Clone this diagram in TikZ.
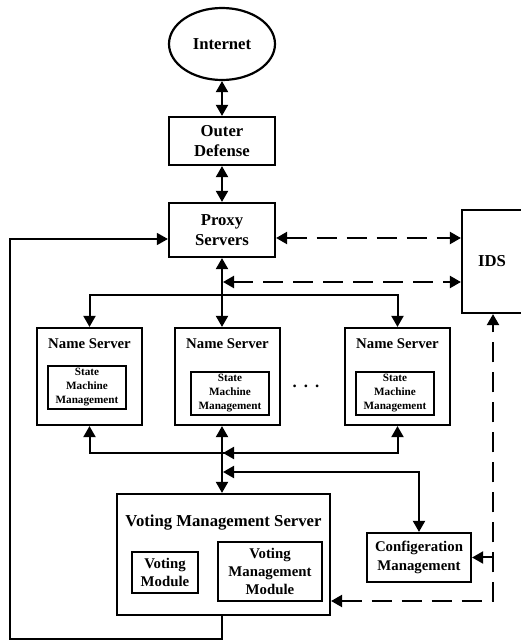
\documentclass[tikz,border=0pt]{standalone}
\usepackage{fontspec}
\setmainfont{Liberation Serif}
\usetikzlibrary{arrows.meta,shapes.geometric}
\newcommand{\fbig}{\fontsize{16.7}{20.7}\selectfont\bfseries}
\newcommand{\fmid}{\fontsize{14.8}{18.2}\selectfont\bfseries}
\newcommand{\fsmall}{\fontsize{11.2}{14}\selectfont\bfseries}
\begin{document}
\begin{tikzpicture}[x=1pt,y=1pt,>={Triangle[length=11pt,width=12pt]},
    box/.style={draw,line width=2.2pt,align=center,inner sep=0pt},
    link/.style={line width=2pt},
    dlink/.style={line width=2.2pt,dash pattern=on 20pt off 10pt}]
        \useasboundingbox (0,0) rectangle (521,641);
        \node [box,ellipse,minimum width=106,minimum height=72,font=\fbig] (inet) at (222,597) {Internet};
        \node [box,minimum width=106,minimum height=48,font=\fbig] (outer) at (222,500) {Outer\\Defense};
        \node [box,minimum width=106,minimum height=54,font=\fbig] (prx) at (222,411) {Proxy\\Servers};
        \node [box,minimum width=60,minimum height=103,font=\fbig] (ids) at (492,379.5) {IDS};
        % name servers
        \foreach \i/\x/\sx/\sy in {1/89.5/87/253.5, 2/227.5/230/247.5, 3/397.5/395/247.5}{
        \node [box,minimum width=105,minimum height=97] (ns\i) at (\x,264.5) {};
        \node [font=\fmid] (nst\i) at ([yshift=-17pt]ns\i.north) {Name Server};
        \node [box,line width=2pt,minimum width=78,minimum height=43,font=\fsmall] (sm\i) at (\sx,\sy) {State\\Machine\\Management};
        }
        \node [font=\fbig] (dots) at (306,255) {.\hspace{7pt}.\hspace{7pt}.};
        % voting
        \node [box,minimum width=213,minimum height=121] (vms) at (223.5,86.5) {};
        \node [font=\fbig] (vmst) at ([yshift=-30pt]vms.north) {Voting Management Server};
        \node [box,line width=2pt,minimum width=66,minimum height=41,font=\fmid] (vmod) at (165,68.5) {Voting\\Module};
        \node [box,line width=2pt,minimum width=104,minimum height=59,font=\fmid] (vmm) at (270,69.5) {Voting\\Management\\Module};
        \node [box,minimum width=104,minimum height=49,font=\fmid] (cfg) at (419,83.5) {Configeration\\Management};
        \coordinate (j0) at (222,346);
        \coordinate (j1) at (223,188);
        \coordinate (j2) at (223,169);
        \coordinate (j3) at (223,359);
        \coordinate (j4) at (493,40);
        \coordinate (j6) at (10,2);
        \draw [link,<->] (inet) -- (outer);
        \draw [link,<->] (outer) -- (prx);
        \draw [link,<->] (prx) -- (prx.south |- ns2.north);
        \draw [link,<->] (ns1.north) |- (j0) -| (ns3.north);
        \draw [dlink,<->] ([yshift=-8pt]prx.east) -- ([yshift=-8pt]prx.east -| ids.west);
        \draw [dlink,<->] (j3) -- (j3 -| ids.west);
        \draw [link,<->] (prx.south |- ns2.south) -- (prx.south |- vms.north);
        \draw [link,<->] (ns1.south) |- (j1) -| (ns3.south);
        \draw [link,<-] (j1) -- ++(30,0);
        \draw [link,<->] (j2) -| (cfg.north);
        \draw [dlink,<->] (vms.east |- j4) -- (j4) -- (j4 |- ids.south);
        \draw [link,->] (j4 |- cfg.east) -- (cfg.east);
        \draw [line width=1.4pt,->] (vms.south -| prx.south) |- (j6) |- ([yshift=-9pt]prx.west);
    \end{tikzpicture}
\end{document}
